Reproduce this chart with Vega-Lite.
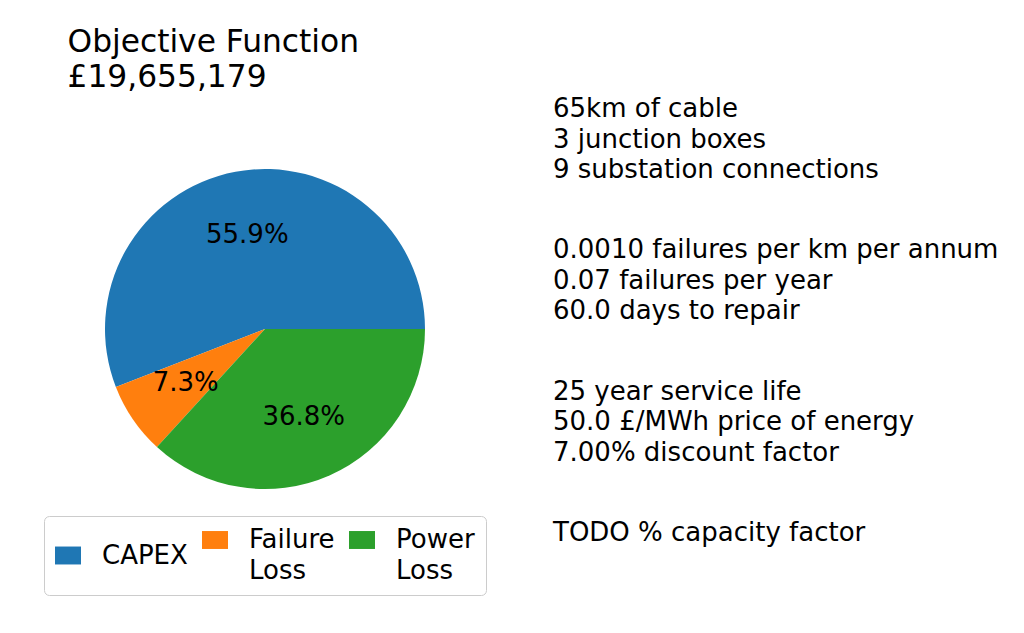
{
  "$schema": "https://vega.github.io/schema/vega-lite/v6.json",
  "padding": {"left": 43, "top": 26, "right": 0, "bottom": 0},
  "background": "white",
  "config": {
    "font": "DejaVu Sans",
    "view": {"stroke": null},
    "concat": {"spacing": 68},
    "style": {"guide-label": {"lineHeight": 31}}
  },
  "title": {
    "text": ["Objective Function", "£19,655,179"],
    "anchor": "start",
    "dx": 24,
    "fontSize": 31.3,
    "fontWeight": "normal",
    "lineHeight": 35,
    "color": "black",
    "offset": 3
  },
  "datasets": {
    "costs": [
      {"component": "CAPEX", "share": 0.559},
      {"component": "Failure Loss", "share": 0.073},
      {"component": "Power Loss", "share": 0.368}
    ],
    "notes": [
      {"block": 1, "text": "65km of cable\n3 junction boxes\n9 substation connections"},
      {"block": 2, "text": "0.0010 failures per km per annum\n0.07 failures per year\n60.0 days to repair"},
      {"block": 3, "text": "25 year service life\n50.0 £/MWh price of energy\n7.00% discount factor"},
      {"block": 4, "text": "TODO % capacity factor"}
    ]
  },
  "hconcat": [
    {
      "width": 440,
      "height": 424,
      "data": {"name": "costs"},
      "encoding": {
        "theta": {"field": "share", "type": "quantitative", "stack": true, "scale": {"range": [1.5707963, 7.8539816]}},
        "order": {"field": "component", "sort": "descending"}
      },
      "layer": [
        {
          "mark": {"type": "arc", "outerRadius": 160},
          "encoding": {
            "color": {
              "field": "component",
              "type": "nominal",
              "scale": {"domain": ["CAPEX", "Failure Loss", "Power Loss"], "range": ["#1f77b4", "#ff7f0e", "#2ca02c"]},
              "legend": {
                "orient": "none",
                "legendX": -1,
                "legendY": 399,
                "direction": "horizontal",
                "columns": 3,
                "title": null,
                "symbolType": "M-1,-0.69L1,-0.69L1,0.69L-1,0.69Z",
                "symbolSize": 676,
                "symbolStrokeWidth": 0,
                "symbolOpacity": 1,
                "labelFontSize": 26,
                "labelColor": "black",
                "labelLimit": 0,
                "labelExpr": "split(datum.label, ' ')",
                "labelOffset": 21,
                "labelBaseline": "middle",
                "columnPadding": 14,
                "padding": 11,
                "strokeColor": "#cccccc",
                "fillColor": "white",
                "cornerRadius": 5
              }
            }
          }
        },
        {
          "mark": {"type": "text", "fontSize": 26, "color": "black", "radius": 96},
          "encoding": {
            "text": {"field": "share", "type": "quantitative", "format": ".1%"}
          }
        }
      ]
    },
    {
      "width": 460,
      "height": 424,
      "data": {"name": "notes"},
      "mark": {"type": "text", "align": "left", "baseline": "alphabetic", "lineBreak": "\n", "lineHeight": 30.5, "fontSize": 26, "color": "black"},
      "encoding": {
        "x": {"value": 0},
        "y": {"field": "block", "type": "ordinal", "scale": {"type": "point", "padding": 0}, "axis": null},
        "text": {"field": "text", "type": "nominal"}
      }
    }
  ]
}
